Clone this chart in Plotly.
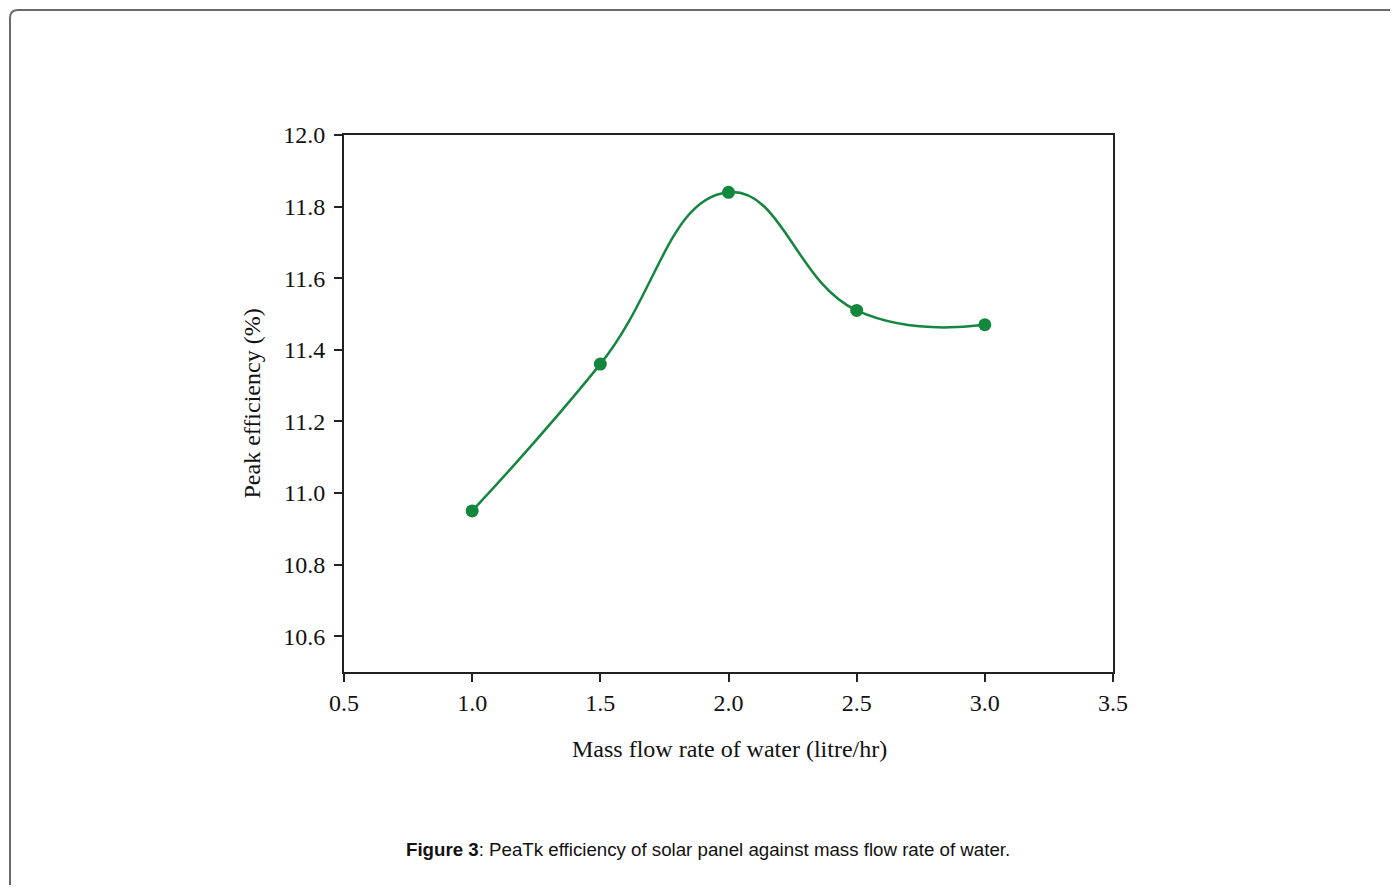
import plotly.graph_objects as go

flow_rate = [1.0, 1.5, 2.0, 2.5, 3.0]
peak_eff = [10.95, 11.36, 11.84, 11.51, 11.47]

x_ticks = [0.5, 1.0, 1.5, 2.0, 2.5, 3.0, 3.5]
y_ticks = [10.6, 10.8, 11.0, 11.2, 11.4, 11.6, 11.8, 12.0]

GREEN = "#14873f"
OFF = 8  # page body margin
W, H = 1398 - 2 * OFF, 893 - 2 * OFF
PL, PR, PT, PB = 344, 1113, 135, 672  # absolute page pixels of plot area
L, T = PL - OFF, PT - OFF
pw, ph = PR - PL, PB - PT
R, B = W - L - pw, H - T - ph

def px(xa):
    return (xa - PL) / pw

def py(ya):
    return (PB - ya) / ph

fig = go.Figure()
fig.add_trace(go.Scatter(
    x=flow_rate, y=peak_eff, mode="lines+markers",
    line=dict(color=GREEN, width=2.5, shape="spline", smoothing=1.3),
    marker=dict(color=GREEN, size=13),
    showlegend=False,
))

serif = "Liberation Serif, Times New Roman, serif"
axis_common = dict(
    showgrid=False, zeroline=False, showline=True, linecolor="#222", linewidth=2,
    ticks="outside", ticklen=8, tickwidth=2, tickcolor="#222", mirror=True,
    tickfont=dict(family=serif, size=24, color="#111"),
)
fig.update_xaxes(range=[0.5, 3.5], tickvals=x_ticks,
                 ticktext=[f"{v:.1f}" for v in x_ticks], **axis_common)
fig.update_yaxes(range=[10.5, 12.0], tickvals=y_ticks, ticklabelstandoff=4,
                 ticktext=[f"{v:.1f}" for v in y_ticks], **axis_common)

# outer rounded frame
x0, y0 = px(10), py(10)
x1, y1 = px(1420), py(920)
rx, ry = 8 / pw, 8 / ph
path = (f"M {x0},{y1} L {x0},{y0 - ry} Q {x0},{y0} {x0 + rx},{y0} "
        f"L {x1},{y0}")
fig.add_shape(type="path", path=path, xref="paper", yref="paper",
              line=dict(color="#6b6b6b", width=2))

ann = dict(xref="paper", yref="paper", showarrow=False,
           xanchor="center", yanchor="middle")
fig.add_annotation(x=px(729), y=py(749),
                   text="Mass flow rate of water (litre/hr)",
                   font=dict(family=serif, size=24, color="#111"), **ann)
fig.add_annotation(x=px(251), y=py(403.5),
                   text="Peak efficiency (%)", textangle=-90,
                   font=dict(family=serif, size=24, color="#111"), **ann)
fig.add_annotation(x=px(708), y=py(849),
                   text="<b>Figure 3</b>: PeaTk efficiency of solar panel against mass flow rate of water.",
                   font=dict(family="Liberation Sans, Arial, sans-serif", size=18.7, color="#111"), **ann)

fig.update_layout(
    width=W, height=H,
    margin=dict(l=L, r=R, t=T, b=B),
    paper_bgcolor="white", plot_bgcolor="white",
)
fig.write_html("out.html")
